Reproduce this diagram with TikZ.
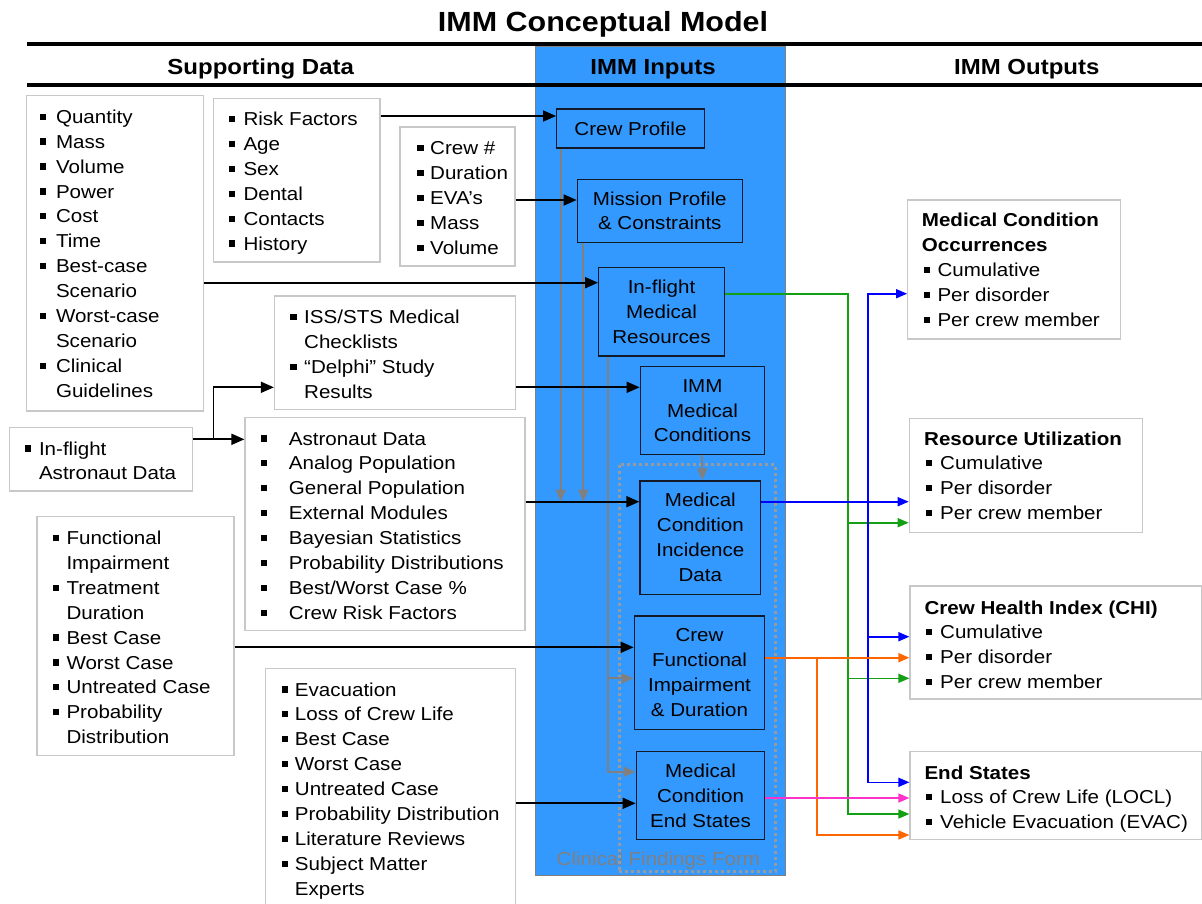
\documentclass[tikz,border=0pt]{standalone}
\usepackage{fontspec}
\setmainfont{Liberation Sans}[FakeStretch=1.1]
\usetikzlibrary{arrows.meta,calc}
\definecolor{colblue}{RGB}{51,153,255}
\definecolor{boxgray}{RGB}{200,200,200}
\definecolor{lnkgray}{RGB}{128,128,128}
\definecolor{dotgray}{RGB}{150,155,160}
\definecolor{cgreen}{RGB}{20,160,20}
\definecolor{cblue}{RGB}{0,0,255}
\definecolor{corange}{RGB}{255,102,0}
\definecolor{cmag}{RGB}{255,51,204}
\definecolor{ibord}{RGB}{20,25,40}
\newcommand\fsn{\fontsize{18.7pt}{24.9pt}\selectfont}
\newcommand\fhead{\fontsize{21.8pt}{26pt}\selectfont\bfseries}
\newcommand\ftitle{\fontsize{27.7pt}{33pt}\selectfont\bfseries}
\newcommand\bl[1]{\makebox[#1][l]{\rule[3.5pt]{6.3pt}{6.3pt}}}
\newcommand\lst[1]{\begin{tabular}[t]{@{}l@{}}#1\end{tabular}}
\begin{document}
\begin{tikzpicture}[x=1pt,y=-1pt,
  sbox/.style={draw=boxgray, line width=1.2pt, fill=white, inner sep=0pt},
  stext/.style={anchor=base west, inner sep=0pt, font=\fsn},
  ibox/.style={draw=ibord, line width=1.3pt, fill=colblue, inner sep=0pt, align=center, font=\fsn},
  barrow/.style={line width=1.8pt, -{Triangle[length=13pt,width=11pt]}},
  garrow/.style={draw=lnkgray, line width=1.8pt, -{Triangle[length=12pt,width=10pt]}},
  carrow/.style={line width=1.6pt, -{Triangle[length=11pt,width=9pt]}}]
\useasboundingbox (0,0) rectangle (1202,903);
\clip (0,0) rectangle (1202,903);
% column
\node[fill=colblue, draw=lnkgray, line width=1pt, minimum width=250, minimum height=829.7, inner sep=0pt] (col) at (660.7,460.85) {};
% rules
\draw[line width=4pt] (27,43.5) -- (1202,43.5);
\draw[line width=4pt] (27,84.5) -- (1202,84.5);
% title and headers
\node[font=\ftitle, anchor=base, inner sep=0pt] (title) at (603,31) {IMM Conceptual Model};
\node[font=\fhead, anchor=base, inner sep=0pt] (hsd) at (260.7,74) {Supporting Data};
\node[font=\fhead, anchor=base, inner sep=0pt] (hin) at (653,74) {IMM Inputs};
\node[font=\fhead, anchor=base, inner sep=0pt] (hout) at (1026.8,74) {IMM Outputs};
% supporting data boxes
\node[sbox, minimum width=176.6, minimum height=315.3] (bA) at (115,253.4) {};
\node[stext] (tA) at (39.3,123.3) {\lst{\bl{16.5pt}Quantity\\ \bl{16.5pt}Mass\\ \bl{16.5pt}Volume\\ \bl{16.5pt}Power\\ \bl{16.5pt}Cost\\ \bl{16.5pt}Time\\ \bl{16.5pt}Best-case\\ \hspace*{16.5pt}Scenario\\ \bl{16.5pt}Worst-case\\ \hspace*{16.5pt}Scenario\\ \bl{16.5pt}Clinical\\ \hspace*{16.5pt}Guidelines}};
\node[sbox, minimum width=166.7, minimum height=163.7] (bB) at (296.7,180.2) {};
\node[stext] (tB) at (228.7,125.7) {\lst{\bl{14.6pt}Risk Factors\\ \bl{14.6pt}Age\\ \bl{14.6pt}Sex\\ \bl{14.6pt}Dental\\ \bl{14.6pt}Contacts\\ \bl{14.6pt}History}};
\node[sbox, minimum width=115, minimum height=139] (bC) at (457.5,196.5) {};
\node[stext] (tC) at (417,154.8) {\lst{\bl{13pt}Crew \#\\ \bl{13pt}Duration\\ \bl{13pt}EVA’s\\ \bl{13pt}Mass\\ \bl{13pt}Volume}};
\node[sbox, minimum width=241.1, minimum height=113.3] (bD) at (395,352.65) {};
\node[stext] (tD) at (290,323.8) {\lst{\bl{14pt}ISS/STS Medical\\ \hspace*{14pt}Checklists\\ \bl{14pt}“Delphi” Study\\ \hspace*{14pt}Results}};
\node[sbox, minimum width=183.5, minimum height=63.3] (bE) at (101,459.35) {};
\node[stext] (tE) at (24.8,455) {\lst{\bl{14pt}In-flight\\ \hspace*{14pt}Astronaut Data}};
\node[sbox, minimum width=280, minimum height=213] (bF) at (385,524.2) {};
\node[stext] (tF) at (260.7,445) {\lst{\bl{28pt}Astronaut Data\\ \bl{28pt}Analog Population\\ \bl{28pt}General Population\\ \bl{28pt}External Modules\\ \bl{28pt}Bayesian Statistics\\ \bl{28pt}Probability Distributions\\ \bl{28pt}Best/Worst Case \%\\ \bl{28pt}Crew Risk Factors}};
\node[sbox, minimum width=197, minimum height=239] (bG) at (135.5,636.2) {};
\node[stext] (tG) at (52.3,544.5) {\lst{\bl{14pt}Functional\\ \hspace*{14pt}Impairment\\ \bl{14pt}Treatment\\ \hspace*{14pt}Duration\\ \bl{14pt}Best Case\\ \bl{14pt}Worst Case\\ \bl{14pt}Untreated Case\\ \bl{14pt}Probability\\ \hspace*{14pt}Distribution}};
\node[sbox, minimum width=250, minimum height=243.7] (bH) at (390.5,790.15) {};
\node[stext] (tH) at (281.7,696) {\lst{\bl{13pt}Evacuation\\ \bl{13pt}Loss of Crew Life\\ \bl{13pt}Best Case\\ \bl{13pt}Worst Case\\ \bl{13pt}Untreated Case\\ \bl{13pt}Probability Distribution\\ \bl{13pt}Literature Reviews\\ \bl{13pt}Subject Matter\\ \hspace*{13pt}Experts}};
% output boxes
\node[sbox, minimum width=213, minimum height=139] (bMCO) at (1014.2,269.5) {};
\node[stext] (tMCO) at (921.7,226.8) {\lst{\textbf{Medical Condition}\\ \textbf{Occurrences}\\ \hspace*{1.6pt}\bl{14pt}Cumulative\\ \hspace*{1.6pt}\bl{14pt}Per disorder\\ \hspace*{1.6pt}\bl{14pt}Per crew member}};
\node[sbox, minimum width=233, minimum height=113.6] (bRU) at (1025.8,475.5) {};
\node[stext] (tRU) at (924,445) {\lst{\textbf{Resource Utilization}\\ \hspace*{1.7pt}\bl{14.3pt}Cumulative\\ \hspace*{1.7pt}\bl{14.3pt}Per disorder\\ \hspace*{1.7pt}\bl{14.3pt}Per crew member}};
\node[sbox, minimum width=291.5, minimum height=113] (bCHI) at (1055.75,642.5) {};
\node[stext] (tCHI) at (924.3,614) {\lst{\textbf{Crew Health Index (CHI)}\\ \hspace*{1.4pt}\bl{14.3pt}Cumulative\\ \hspace*{1.4pt}\bl{14.3pt}Per disorder\\ \hspace*{1.4pt}\bl{14.3pt}Per crew member}};
\node[sbox, minimum width=291.5, minimum height=87.6] (bES) at (1055.75,795.5) {};
\node[stext] (tES) at (924.3,779) {\lst{\textbf{End States}\\ \hspace*{1.4pt}\bl{14.3pt}Loss of Crew Life (LOCL)\\ \hspace*{1.4pt}\bl{14.3pt}Vehicle Evacuation (EVAC)}};
% clinical findings form
\node[font=\fsn, text=lnkgray, anchor=base, inner sep=0pt] (cfflabel) at (658.4,865.7) {Clinical Findings Form};
\node[draw=dotgray, line width=3pt, dash pattern=on 3pt off 3pt, minimum width=156, minimum height=407.4, inner sep=0pt] (cff) at (697,668) {};
% input boxes
\node[ibox, minimum width=147.6, minimum height=39] (crew) at (630.5,128.5) {Crew Profile};
\node[ibox, minimum width=165, minimum height=63] (mission) at (659.8,210.8) {Mission Profile\\\& Constraints};
\node[ibox, minimum width=125.6, minimum height=88.3] (ifmr) at (661.5,311.85) {In-flight\\Medical\\Resources};
\node[ibox, minimum width=124.4, minimum height=88] (immmc) at (702.5,410.7) {IMM\\Medical\\Conditions};
\node[ibox, minimum width=120.7, minimum height=113.3] (mcid) at (700.35,537.65) {Medical\\Condition\\Incidence\\Data};
\node[ibox, minimum width=130.4, minimum height=113.3] (cfid) at (699.5,672.65) {Crew\\Functional\\Impairment\\\& Duration};
\node[ibox, minimum width=128.4, minimum height=88.4] (mces) at (700.5,795.5) {Medical\\Condition\\End States};
% gray connectors
\coordinate (gx1) at (560.7,501.7);
\coordinate (gx2) at (583.3,501.7);
\coordinate (gx3) at (608.3,771.7);
\coordinate (gx4) at (608.3,678.3);
\coordinate (gx5) at (702.3,0);
\draw[garrow] (crew.south -| gx1) -- (gx1);
\draw[garrow] (mission.south -| gx2) -- (gx2);
\draw[garrow] (ifmr.south -| gx3) -- (gx3) -- (mces.west |- gx3);
\draw[garrow] (gx4) -- (cfid.west |- gx4);
\draw[garrow] (immmc.south -| gx5) -- (mcid.north -| gx5);
% black connectors
\coordinate (jE) at (213.5,439.3);
\draw[barrow] (bB.east |- 0,116) -- (crew.west |- 0,116);
\draw[barrow] (bC.east |- 0,200) -- (mission.west |- 0,200);
\draw[barrow] (bA.east |- 0,282.7) -- (ifmr.west |- 0,282.7);
\draw[barrow] (bD.east |- 0,387.3) -- (immmc.west |- 0,387.3);
\draw[line width=1.8pt] (bE.east |- jE) -- (jE);
\draw[barrow] (jE) |- (bD.west |- 0,387.3);
\draw[barrow] (jE) -- (bF.west |- jE);
\draw[barrow] (bF.east |- 0,501.7) -- (mcid.west |- 0,501.7);
\draw[barrow] (bG.east |- 0,647.3) -- (cfid.west |- 0,647.3);
\draw[barrow] (bH.east |- 0,803.3) -- (mces.west |- 0,803.3);
% green
\coordinate (gv) at (847.7,293.7);
\draw[carrow, cgreen] (ifmr.east |- gv) -- (gv) |- (bES.west |- 0,814);
\draw[carrow, cgreen] (gv |- 0,522.7) -- (bRU.west |- 0,522.7);
\draw[carrow, cgreen] (gv |- 0,678.3) -- (bCHI.west |- 0,678.3);
% blue
\coordinate (bv) at (867.7,501.7);
\draw[carrow, cblue] (mcid.east |- bv) -- (bRU.west |- bv);
\draw[carrow, cblue] (bv) |- (bMCO.west |- 0,293.7);
\draw[carrow, cblue] (bv) |- (bES.west |- 0,782.3);
\draw[carrow, cblue] (bv |- 0,636.7) -- (bCHI.west |- 0,636.7);
% orange
\coordinate (ov) at (816.7,657.7);
\draw[carrow, corange] (cfid.east |- ov) -- (bCHI.west |- ov);
\draw[carrow, corange] (ov) |- (bES.west |- 0,835);
% magenta
\draw[carrow, cmag] (mces.east |- 0,798) -- (bES.west |- 0,798);
\end{tikzpicture}
\end{document}
